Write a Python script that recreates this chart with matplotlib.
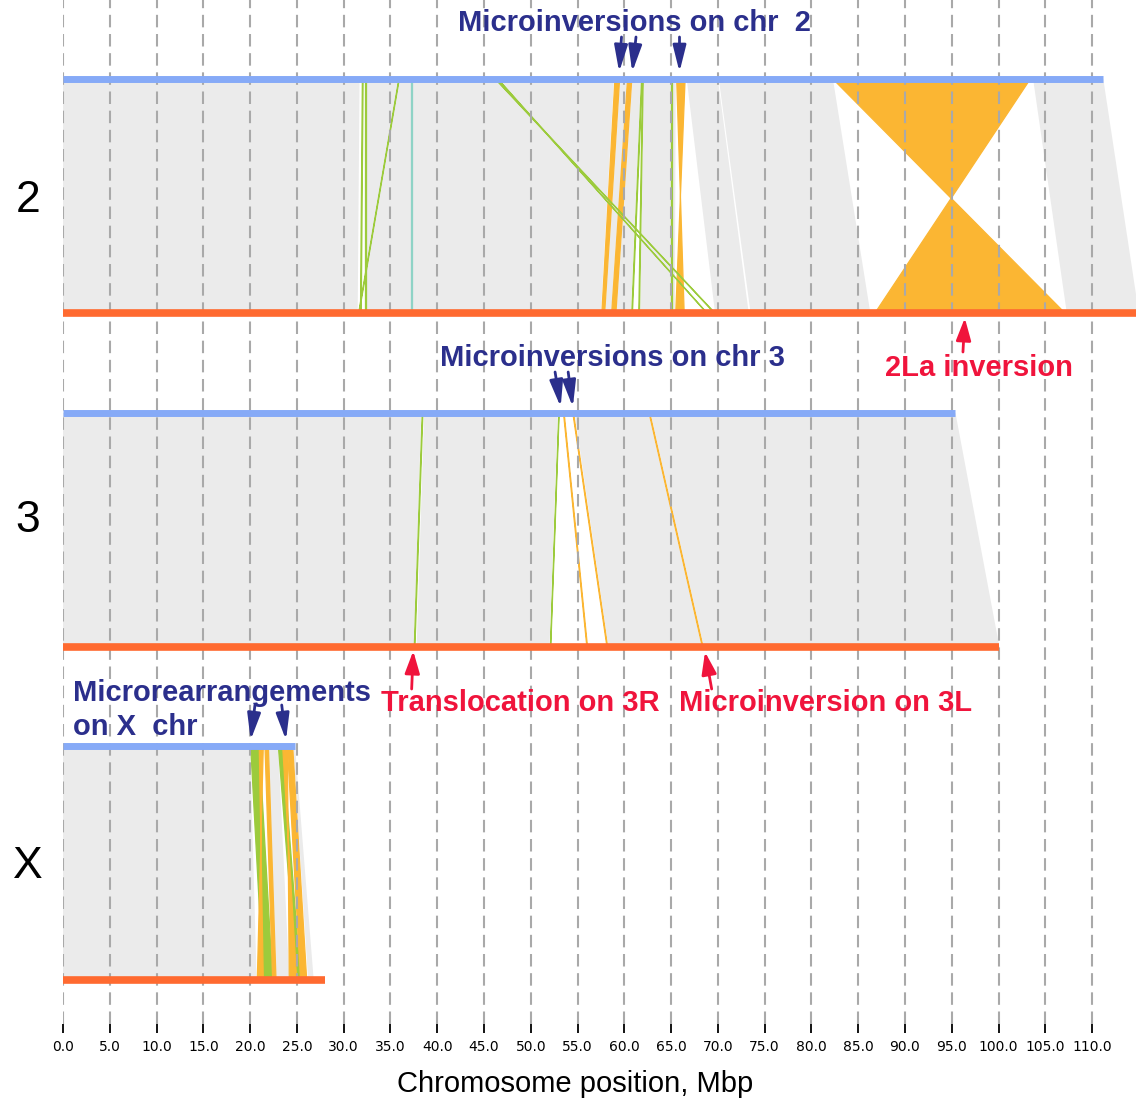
import matplotlib
matplotlib.use("Agg")
import matplotlib.pyplot as plt
from matplotlib.patches import Polygon

# ---------------- data (Mbp) ----------------
chromosomes = ["2", "3", "X"]
top_lengths = [111.2, 95.4, 24.8]       # reference assembly (blue)
bottom_lengths = [115.0, 100.1, 28.0]   # compared assembly (orange)

# synteny links: (top_start, top_end, bottom_start, bottom_end, kind)
links_chr2 = [
    (0.0, 31.7, 0.0, 31.5, "grey"),
    (32.5, 58.9, 32.5, 57.5, "grey"),
    (59.55, 60.3, 57.95, 58.6, "grey"),
    (60.85, 61.8, 59.15, 60.7, "grey"),
    (62.05, 65.5, 61.7, 65.4, "grey"),
    (66.67, 70.0, 69.7, 73.3, "grey"),
    (70.1, 82.3, 73.5, 86.3, "grey"),
    (103.7, 111.2, 107.3, 115.0, "grey"),
    (59.0, 59.5, 57.6, 57.9, "inv"),
    (60.35, 60.8, 58.65, 59.1, "inv"),
    (65.6, 66.5, 66.4, 65.5, "inv"),
    (82.3, 103.4, 107.1, 86.8, "inv"),
    (32.0, 32.08, 31.8, 31.88, "trans"),
    (32.3, 32.38, 32.3, 32.38, "trans"),
    (35.9, 35.95, 31.6, 31.65, "trans"),
    (46.2, 46.27, 69.62, 69.69, "trans"),
    (46.45, 46.5, 68.8, 68.85, "trans"),
    (61.85, 61.92, 60.8, 60.87, "trans"),
    (61.95, 62.02, 61.55, 61.62, "trans"),
    (65.0, 65.07, 65.0, 65.07, "trans"),
    (37.2, 37.27, 37.2, 37.27, "other"),
]
links_chr3 = [
    (0.0, 38.3, 0.0, 37.5, "grey"),
    (38.6, 52.9, 37.8, 52.0, "grey"),
    (54.7, 62.6, 58.3, 68.3, "grey"),
    (62.8, 95.4, 68.5, 100.1, "grey"),
    (53.5, 53.57, 56.0, 56.07, "inv"),
    (54.5, 54.57, 58.15, 58.22, "inv"),
    (62.65, 62.72, 68.35, 68.42, "inv"),
    (38.4, 38.47, 37.55, 37.62, "trans"),
    (53.0, 53.04, 52.1, 52.14, "trans"),
]
links_chrX = [
    (0.0, 20.0, 0.0, 20.7, "grey"),
    (21.95, 23.0, 22.8, 24.2, "grey"),
    (24.6, 24.8, 26.2, 26.8, "grey"),
    (20.06, 20.98, 21.41, 22.41, "trans"),
    (23.02, 23.48, 24.98, 25.4, "trans"),
    (20.98, 21.41, 21.41, 20.77, "inv"),
    (21.59, 21.95, 22.41, 22.77, "inv"),
    (23.48, 23.98, 24.98, 24.19, "inv"),
    (23.98, 24.55, 25.4, 26.05, "inv"),
]
all_links = [links_chr2, links_chr3, links_chrX]

tick_values = list(range(0, 115, 5))
tick_labels = [f"{v:.1f}" for v in tick_values]

# ---------------- style / layout ----------------
W, H = 1136, 1098
PX_PER_MBP = 9.355
AX_LEFT_PX = 63
AX_BOTTOM_PX = 1024
track_y = [(79, 313), (413, 647), (746, 980)]   # layout rows (top, bottom)
label_y = [201, 521, 866]
kind_color = {"grey": "#ebebeb", "inv": "#fbb633", "trans": "#9ccb3c", "other": "#8fd3c6"}
BLUE = "#86aaf7"
ORANGE = "#ff6a30"
NAVY = "#2b2f8c"
RED = "#f0143c"

fig = plt.figure(figsize=(W / 100, H / 100), dpi=100)
ax = fig.add_axes([AX_LEFT_PX / W, (H - AX_BOTTOM_PX) / H, 1 - AX_LEFT_PX / W, AX_BOTTOM_PX / H])
ax.set_xlim(0, (W - AX_LEFT_PX) / PX_PER_MBP)
ax.set_ylim(AX_BOTTOM_PX, 0)

for (yt, yb), links in zip(track_y, all_links):
    for ts, te, bs, be, kind in links:
        c = kind_color[kind]
        poly = Polygon([(ts, yt), (te, yt), (be, yb), (bs, yb)], closed=True,
                       facecolor=c, edgecolor=c if kind != "grey" else "none",
                       linewidth=0.9 if kind != "grey" else 0, zorder=1 if kind == "grey" else 1.5)
        ax.add_patch(poly)

for (yt, yb), lt, lb in zip(track_y, top_lengths, bottom_lengths):
    ax.plot([0, lt], [yt, yt], color=BLUE, lw=5, solid_capstyle="butt", zorder=3)
    ax.plot([0, lb], [yb, yb], color=ORANGE, lw=5.5, solid_capstyle="butt", zorder=3)

for name, y in zip(chromosomes, label_y):
    ax.text(-0.0326, y, name, transform=ax.get_yaxis_transform(), ha="center", va="center",
            fontsize=32, family="Liberation Sans", clip_on=False)

# grid / axis
ax.set_xticks(tick_values)
ax.set_xticklabels(tick_labels, fontsize=10, family="DejaVu Sans")
ax.set_yticks([])
for s in ax.spines.values():
    s.set_visible(False)
ax.tick_params(axis="x", length=6.5, width=1.3, color="black", pad=5)
ax.set_axisbelow(False)
ax.grid(axis="x", color="#a9a9a9", linestyle=(0, (6, 3.2)), linewidth=1.5, zorder=2.5)
ax.set_xlabel("Chromosome position, Mbp", fontsize=21, family="Liberation Sans")
ax.xaxis.set_label_coords(0.477, -0.045)

txt_kw = dict(fontsize=21, fontweight="bold", family="Liberation Sans", zorder=5)
ax.text(61.09, 23, "Microinversions on chr  2", color=NAVY, ha="center", va="center", **txt_kw)
ax.text(58.74, 358, "Microinversions on chr 3", color=NAVY, ha="center", va="center", **txt_kw)
ax.text(1.07, 710, "Microrearrangements\non X  chr", color=NAVY, ha="left", va="center",
        linespacing=1.3, **txt_kw)
ax.text(97.86, 368, "2La inversion", color=RED, ha="center", va="center", **txt_kw)
ax.text(48.85, 703, "Translocation on 3R", color=RED, ha="center", va="center", **txt_kw)
ax.text(81.56, 703, "Microinversion on 3L", color=RED, ha="center", va="center", **txt_kw)

navy_arrows = [((59.7, 37), (59.45, 72)), ((61.25, 37), (60.85, 72)), ((65.9, 37), (65.9, 72)),
               ((52.6, 372), (53.2, 407)), ((54.0, 372), (54.5, 407)),
               ((20.52, 705), (20.06, 740)), ((23.38, 705), (23.84, 740))]
red_arrows = [((96.2, 352), (96.4, 318)), ((37.27, 689), (37.44, 651)), ((69.34, 689), (68.63, 652))]

for (tail, tip) in navy_arrows:
    ax.annotate("", xy=tip, xytext=tail, zorder=6,
                arrowprops=dict(arrowstyle="-|>,head_length=1.0,head_width=0.25", color=NAVY,
                                lw=2, mutation_scale=16, shrinkA=0, shrinkB=0))
for (tail, tip) in red_arrows:
    ax.annotate("", xy=tip, xytext=tail, zorder=6,
                arrowprops=dict(arrowstyle="-|>,head_length=0.9,head_width=0.3", color=RED,
                                lw=2, mutation_scale=15, shrinkA=0, shrinkB=0))

fig.savefig("out.png", dpi=100)
